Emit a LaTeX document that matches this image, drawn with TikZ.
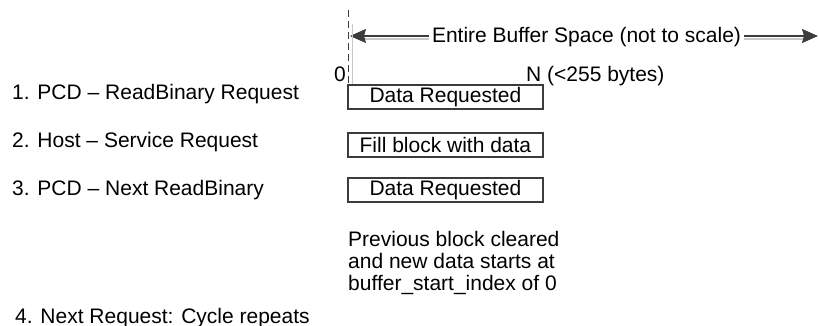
\documentclass[tikz,border=0pt]{standalone}
\usepackage{fontspec}
\setmainfont{Liberation Sans}
\usetikzlibrary{arrows.meta}
\definecolor{boxc}{HTML}{3C3C3C}
\definecolor{shadec}{HTML}{C8C8C8}
\begin{document}
\begin{tikzpicture}[x=1pt,y=-1pt,
  every node/.style={font=\fontsize{21}{22}\selectfont, inner sep=0pt},
  blk/.style={draw=boxc, line width=1.8pt, minimum width=195pt, minimum height=24pt, anchor=north west},
  lbl/.style={anchor=base west},
  arr/.style={draw=boxc, line width=1.4pt, -{Stealth[length=16pt,width=14pt,inset=2pt]}},
  shade/.style={draw=shadec, line width=1.4pt},
  guide/.style={draw=boxc, line width=1pt, dash pattern=on 7pt off 4pt},
  faint/.style={draw=shadec, line width=1pt}]
\useasboundingbox (0,0) rectangle (819,326);

% left step labels
\node[lbl] (s1) at (12,100) {1. PCD -- ReadBinary Request};
\node[lbl] (s2) at (12,147) {2. Host -- Service Request};
\node[lbl] (s3) at (12,195) {3. PCD -- Next ReadBinary};
\node[lbl] (s4) at (15,323) {4. Next Request: Cycle repeats};

% buffer blocks
\node[blk] (b1) at (347,84) {Data Requested};
\node[blk] (b2) at (347,132) {Fill block with data};
\node[blk] (b3) at (347,177) {Data Requested};

% axis labels
\node[anchor=base east] (zero) at (346,82) {0};
\node[lbl] (nlab) at (526,82) {N (<255 bytes)};

% title arrow
\node[anchor=base, inner xsep=3pt] (title) at (586.5,43) {Entire Buffer Space (not to scale)};
\coordinate (L) at (350,36);
\coordinate (R) at (818,36);
\draw[shade] ([yshift=-3pt]title.west |- L) -- ([yshift=-3pt,xshift=8pt]L);
\draw[shade] ([yshift=-3pt]title.east |- R) -- ([yshift=-3pt,xshift=-8pt]R);
\draw[arr] (title.west |- L) -- (L);
\draw[arr] (title.east |- R) -- (R);

% start guide
\coordinate (dtop) at (348,10);
\coordinate (ftop) at (352,24);
\draw[guide] (dtop) -- (dtop |- b1.north);
\draw[faint] (ftop) -- (ftop |- b1.north);

% note
\node[lbl] (n1) at (348,246) {Previous block cleared};
\node[lbl] (n2) at (348,268) {and new data starts at};
\node[lbl] (n3) at (348,290) {buffer\_start\_index of 0};
\end{tikzpicture}
\end{document}
